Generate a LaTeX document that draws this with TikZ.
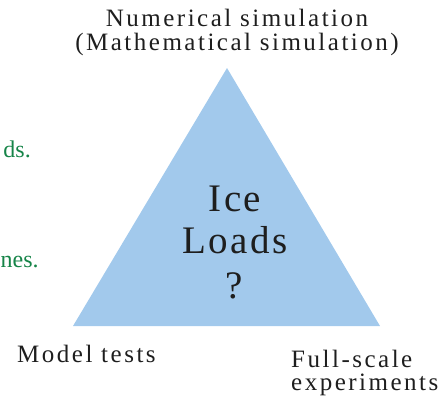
\documentclass[tikz,border=0pt]{standalone}
\usepackage{fontspec}
\setmainfont{Liberation Serif}
\newfontfamily\spacedfont[LetterSpace=10]{Liberation Serif}
\newfontfamily\bigspacedfont[LetterSpace=6]{Liberation Serif}
\definecolor{tri}{RGB}{162,201,236}
\definecolor{grn}{RGB}{22,132,72}
\definecolor{txt}{RGB}{30,30,30}
\tikzset{
  lbl/.style={font=\spacedfont\fontsize{25}{30}\selectfont, text=txt, inner sep=0pt},
  biglbl/.style={font=\bigspacedfont\fontsize{39}{46}\selectfont, text=txt, inner sep=0pt},
  grnlbl/.style={font=\fontsize{24}{28}\selectfont, text=grn, inner sep=0pt}
}
\begin{document}
\begin{tikzpicture}[x=1pt,y=-1pt]
\useasboundingbox (0,0) rectangle (441,396);
\fill[tri] (227,68) -- (73,326) -- (380,326) -- cycle;
\node[lbl, anchor=base] (num1) at (237,27) {Numerical simulation};
\node[lbl, anchor=base] (num2) at (237,50) {(Mathematical simulation)};
\node[lbl, anchor=base west] (mt) at (17,362) {Model tests};
\node[lbl, anchor=base west] (fs1) at (291,367) {Full-scale};
\node[lbl, anchor=base west] (fs2) at (291,390) {experiments};
\node[biglbl, anchor=base] (ice) at (235,211) {Ice};
\node[biglbl, anchor=base] (loads) at (235,253) {Loads};
\node[biglbl, anchor=base] (q) at (234,298) {?};
\node[grnlbl, anchor=base east] (g1) at (31,157) {ds.};
\node[grnlbl, anchor=base west] (g2) at (0.5,267) {nes.};
\end{tikzpicture}
\end{document}
